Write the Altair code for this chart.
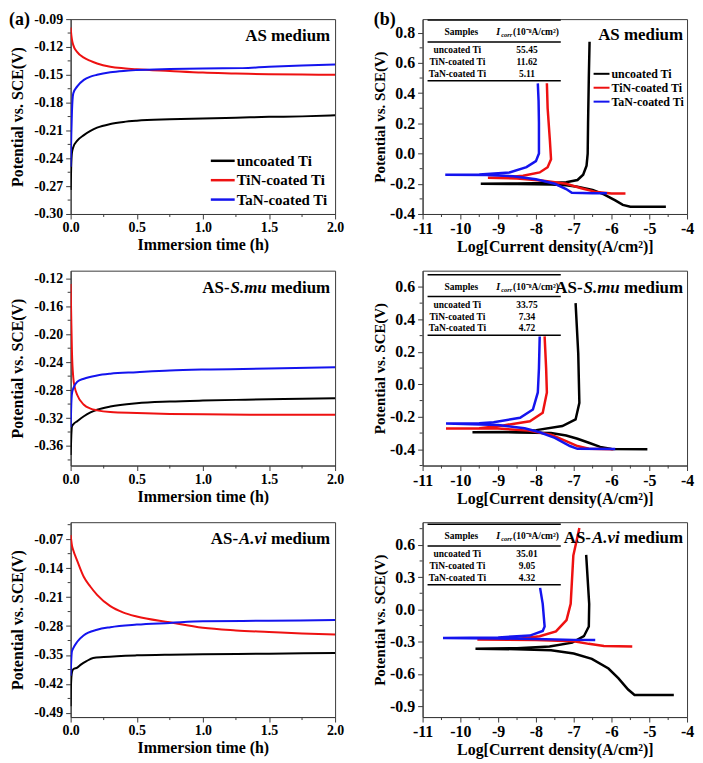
import altair as alt
import pandas as pd

FONT = "Liberation Serif"
SERIES = ["uncoated Ti", "TiN-coated Ti", "TaN-coated Ti"]
COLORS = ["#000000", "#ee1111", "#1414ee"]

ICORR_AS = ["55.45", "11.62", "5.11"]
ICORR_SMU = ["33.75", "7.34", "4.72"]
ICORR_AVI = ["35.01", "9.05", "4.32"]

# ---------- (a) open-circuit potential vs immersion time ----------
A1_UN_T = [0, 0.004, 0.01, 0.02, 0.05, 0.1, 0.15, 0.2, 0.3, 0.4, 0.5, 0.75, 1.0, 1.25, 1.5, 1.75, 2.0]
A1_UN_E = [-0.274, -0.25, -0.234, -0.228, -0.221, -0.215, -0.2105, -0.207, -0.203, -0.2008, -0.1995, -0.198, -0.197, -0.1962, -0.1953, -0.1948, -0.1937]
A1_TIN_T = [0, 0.005, 0.01, 0.02, 0.05, 0.1, 0.15, 0.2, 0.3, 0.4, 0.5, 0.75, 1.0, 1.25, 1.5, 1.75, 2.0]
A1_TIN_E = [-0.099, -0.107, -0.112, -0.118, -0.1255, -0.1315, -0.135, -0.1378, -0.1413, -0.143, -0.1441, -0.1459, -0.1476, -0.1485, -0.1494, -0.1497, -0.150]
A1_TAN_T = [0, 0.005, 0.01, 0.02, 0.05, 0.1, 0.15, 0.2, 0.3, 0.4, 0.5, 0.75, 1.0, 1.3, 1.5, 1.75, 2.0]
A1_TAN_E = [-0.249, -0.215, -0.19, -0.17, -0.1625, -0.1555, -0.152, -0.150, -0.1473, -0.1458, -0.1449, -0.1438, -0.1431, -0.1428, -0.1413, -0.140, -0.139]

A2_UN_T = [0, 0.005, 0.01, 0.02, 0.05, 0.1, 0.15, 0.2, 0.3, 0.5, 0.75, 1.0, 1.25, 1.5, 1.75, 2.0]
A2_UN_E = [-0.373, -0.345, -0.332, -0.329, -0.3245, -0.3175, -0.312, -0.3081, -0.3035, -0.2988, -0.2964, -0.295, -0.294, -0.2932, -0.2925, -0.2918]
A2_TIN_T = [0, 0.005, 0.01, 0.02, 0.03, 0.05, 0.1, 0.15, 0.2, 0.3, 0.5, 0.75, 1.0, 1.5, 2.0]
A2_TIN_E = [-0.128, -0.18, -0.225, -0.262, -0.275, -0.287, -0.301, -0.3065, -0.309, -0.3115, -0.3128, -0.3142, -0.3147, -0.3152, -0.3152]
A2_TAN_T = [0, 0.005, 0.01, 0.02, 0.05, 0.1, 0.2, 0.3, 0.5, 0.75, 1.0, 1.5, 2.0]
A2_TAN_E = [-0.333, -0.30, -0.285, -0.2775, -0.268, -0.2637, -0.259, -0.2565, -0.2544, -0.252, -0.2506, -0.2492, -0.2474]

A3_UN_T = [0, 0.003, 0.01, 0.02, 0.05, 0.08, 0.12, 0.17, 0.25, 0.5, 0.75, 1.0, 1.5, 2.0]
A3_UN_E = [-0.474, -0.42, -0.392, -0.3844, -0.3805, -0.3727, -0.3648, -0.357, -0.3547, -0.3508, -0.3492, -0.3484, -0.3468, -0.3453]
A3_TIN_T = [0, 0.01, 0.02, 0.05, 0.1, 0.15, 0.2, 0.3, 0.4, 0.5, 0.75, 1.0, 1.25, 1.5, 1.75, 2.0]
A3_TIN_E = [-0.06, -0.085, -0.097, -0.1224, -0.1615, -0.185, -0.2045, -0.2319, -0.2475, -0.2569, -0.271, -0.2843, -0.2905, -0.2944, -0.2983, -0.3007]
A3_TAN_T = [0, 0.005, 0.01, 0.02, 0.05, 0.1, 0.2, 0.3, 0.5, 0.75, 1.0, 1.5, 2.0]
A3_TAN_E = [-0.40, -0.36, -0.3413, -0.3335, -0.3179, -0.3023, -0.289, -0.2827, -0.2765, -0.2725, -0.2686, -0.2671, -0.2655]

# ---------- (b) polarization curves (path: cathodic -> Ecorr -> anodic) ----------
B1_UN_X = [-4.56, -5.5, -5.7, -5.9, -6.2, -6.5, -6.9, -7.2, -7.6, -8.5, -9.46, -8.5, -7.6, -7.2, -6.9, -6.75, -6.66, -6.63, -6.62, -6.60, -6.58]
B1_UN_E = [-0.352, -0.352, -0.34, -0.31, -0.27, -0.24, -0.22, -0.21, -0.205, -0.202, -0.2, -0.198, -0.195, -0.19, -0.175, -0.14, -0.08, 0.0, 0.2, 0.5, 0.74]
B1_TIN_X = [-5.63, -6.0, -6.4, -6.8, -7.2, -7.8, -8.5, -9.27, -8.94, -8.34, -7.9, -7.69, -7.6, -7.63, -7.69, -7.71]
B1_TIN_E = [-0.265, -0.265, -0.255, -0.23, -0.2, -0.18, -0.165, -0.16, -0.158, -0.147, -0.125, -0.09, -0.037, 0.085, 0.30, 0.465]
B1_TAN_X = [-6.12, -6.5, -7.05, -7.2, -7.5, -8.0, -8.6, -9.3, -10.4, -9.5, -8.7, -8.25, -8.0, -7.92, -7.92, -7.93, -7.95]
B1_TAN_E = [-0.262, -0.262, -0.26, -0.235, -0.2, -0.17, -0.15, -0.142, -0.14, -0.138, -0.125, -0.09, -0.05, 0.0, 0.2, 0.35, 0.465]

B2_UN_X = [-5.05, -6.0, -6.3, -6.6, -6.9, -7.2, -7.6, -8.5, -9.68, -8.5, -7.99, -7.3, -6.95, -6.85, -6.88, -6.95]
B2_UN_E = [-0.4, -0.398, -0.385, -0.36, -0.335, -0.315, -0.3, -0.296, -0.295, -0.293, -0.282, -0.257, -0.216, -0.114, 0.19, 0.5]
B2_TIN_X = [-5.95, -6.6, -6.9, -7.2, -7.6, -8.2, -9.0, -10.38, -9.5, -8.86, -8.16, -7.82, -7.71, -7.73, -7.77]
B2_TIN_E = [-0.4, -0.397, -0.38, -0.35, -0.31, -0.285, -0.272, -0.272, -0.27, -0.253, -0.227, -0.175, -0.05, 0.1, 0.295]
B2_TAN_X = [-5.9, -6.9, -7.1, -7.5, -7.9, -8.3, -9.0, -10.38, -9.5, -9.12, -8.42, -8.08, -7.95, -7.92, -7.9]
B2_TAN_E = [-0.398, -0.397, -0.38, -0.33, -0.295, -0.27, -0.25, -0.241, -0.24, -0.233, -0.206, -0.155, -0.05, 0.1, 0.295]

B3_UN_X = [-4.35, -5.39, -5.56, -5.82, -6.08, -6.52, -7.0, -7.6, -8.5, -9.6, -8.5, -7.64, -7.04, -6.73, -6.6, -6.59, -6.67]
B3_UN_E = [-0.795, -0.795, -0.744, -0.639, -0.549, -0.459, -0.41, -0.38, -0.37, -0.365, -0.36, -0.345, -0.309, -0.249, -0.159, 0.051, 0.507]
B3_TIN_X = [-5.45, -6.2, -6.6, -7.0, -8.0, -9.55, -8.5, -7.9, -7.47, -7.19, -7.08, -7.01, -6.85]
B3_TIN_E = [-0.345, -0.34, -0.32, -0.295, -0.285, -0.28, -0.275, -0.249, -0.204, -0.099, 0.051, 0.5, 0.756]
B3_TAN_X = [-6.43, -7.0, -8.0, -9.0, -10.46, -9.0, -8.16, -7.82, -7.77, -7.82, -7.89]
B3_TAN_E = [-0.285, -0.283, -0.275, -0.27, -0.265, -0.26, -0.243, -0.2, -0.159, 0.051, 0.2]

# ---------- tick values ----------
A_X_MAJ = [0, 0.5, 1.0, 1.5, 2.0]
A_X_MIN = [0.25, 0.75, 1.25, 1.75]
A1_Y_MAJ = [-0.30, -0.27, -0.24, -0.21, -0.18, -0.15, -0.12, -0.09]
A1_Y_MIN = [-0.285, -0.255, -0.225, -0.195, -0.165, -0.135, -0.105]
A2_Y_MAJ = [-0.36, -0.32, -0.28, -0.24, -0.20, -0.16, -0.12]
A2_Y_MIN = [-0.38, -0.34, -0.30, -0.26, -0.22, -0.18, -0.14]
A3_Y_MAJ = [-0.49, -0.42, -0.35, -0.28, -0.21, -0.14, -0.07]
A3_Y_MIN = [-0.455, -0.385, -0.315, -0.245, -0.175, -0.105, -0.035]
B_X_MAJ = [-11, -10, -9, -8, -7, -6, -5, -4]
B_X_MIN = [-10.5, -9.5, -8.5, -7.5, -6.5, -5.5, -4.5]
B1_Y_MAJ = [-0.4, -0.2, 0.0, 0.2, 0.4, 0.6, 0.8]
B1_Y_MIN = [-0.3, -0.1, 0.1, 0.3, 0.5, 0.7]
B2_Y_MAJ = [-0.4, -0.2, 0.0, 0.2, 0.4, 0.6]
B2_Y_MIN = [-0.5, -0.3, -0.1, 0.1, 0.3, 0.5]
B3_Y_MAJ = [-0.9, -0.6, -0.3, 0.0, 0.3, 0.6]
B3_Y_MIN = [-0.75, -0.45, -0.15, 0.15, 0.45, 0.75]

YTITLE = "Potential vs. SCE(V)"
XTITLE_A = "Immersion time (h)"
XTITLE_B = "Log[Current density(A/cm²)]"

WL, WR, H = 266, 266, 196
AXC = "#3a3a3a"
ONE = pd.DataFrame({"k": [0]})


def curves(named):
    rows = []
    for s, xs, ys in named:
        for i, (x, y) in enumerate(zip(xs, ys)):
            rows.append({"s": s, "x": x, "y": y, "i": i})
    return pd.DataFrame(rows)


def txt(t, x, y, size, align="left", italic=False, baseline="alphabetic"):
    return alt.Chart(ONE).mark_text(
        text=t, font=FONT, fontSize=size, fontWeight="bold",
        fontStyle="italic" if italic else "normal",
        align=align, baseline=baseline, color="black",
    ).encode(x=alt.value(x), y=alt.value(y))


def hline(x1, x2, y, color="black", w=1.5):
    return alt.Chart(ONE).mark_rule(color=color, strokeWidth=w).encode(
        x=alt.value(x1), x2=alt.value(x2), y=alt.value(y))


def lab_expr(fmt):
    return "replace(format(datum.value, '" + fmt + "'), '\u2212', '-')"


def panel(df, xdom, ydom, xmaj, xmin, ymaj, ymin, xfmt, yfmt, xtitle, W, kind, extras):
    if kind == "a":
        lab, xts, yts, ytp, sw, interp = 14, 16, 16, 8, 2, "monotone"
    else:
        lab, xts, yts, ytp, sw, interp = 16, 16, 15, 2, 2.5, "linear"
    xs = alt.Scale(domain=xdom, nice=False, zero=False)
    ys = alt.Scale(domain=ydom, nice=False, zero=False)
    xaxis = alt.Axis(values=xmaj, title=xtitle, labelExpr=lab_expr(xfmt), tickSize=5,
                     labelPadding=2, labelFontSize=lab, titleFontSize=xts, titlePadding=2,
                     grid=False, labelFlush=False, labelOverlap=False)
    yaxis = alt.Axis(values=ymaj, title=YTITLE, labelExpr=lab_expr(yfmt), tickSize=5,
                     labelPadding=3, labelFontSize=lab, titleFontSize=yts, titlePadding=ytp,
                     grid=False, labelFlush=False, labelOverlap=False)
    lines = alt.Chart(df).mark_line(strokeWidth=sw, clip=True, interpolate=interp).encode(
        x=alt.X("x:Q", scale=xs, axis=xaxis),
        y=alt.Y("y:Q", scale=ys, axis=yaxis),
        color=alt.Color("s:N", scale=alt.Scale(domain=SERIES, range=COLORS), legend=None),
        order="i:Q",
    )
    xminor = alt.Chart(pd.DataFrame({"x": xmin})).mark_rule(color=AXC, strokeWidth=1).encode(
        x=alt.X("x:Q", scale=xs, axis=xaxis), y=alt.value(H), y2=alt.value(H + 3))
    yminor = alt.Chart(pd.DataFrame({"y": ymin})).mark_rule(color=AXC, strokeWidth=1).encode(
        y=alt.Y("y:Q", scale=ys, axis=yaxis), x=alt.value(0), x2=alt.value(-3))
    return alt.layer(lines, *extras, xminor, yminor).properties(width=W, height=H)


def medium_title(italic_part, W, y, size=17, rpad=5):
    if italic_part is None:
        return [txt("AS medium", W - rpad, y, size, align="right")]
    med_w = 3.5 * size
    sp = 0.25 * size
    it_w = {"S.mu": 2.14, "A.vi": 1.639}[italic_part] * size
    return [
        txt("medium", W - rpad, y, size, align="right"),
        txt(italic_part, W - rpad - med_w - sp, y, size, align="right", italic=True),
        txt("AS-", W - rpad - med_w - sp - it_w - 1, y, size, align="right"),
    ]


def table(values, t0):
    out = [hline(5, 139, t0), hline(5, 139, t0 + 22), hline(5, 139, t0 + 61),
           txt("Samples", 39, t0 + 15, 9.5, align="center"),
           txt("I", 74, t0 + 15, 10, italic=True),
           txt("corr", 79, t0 + 17, 6.5, italic=True),
           txt("(10\u207b\u2078A/cm\u00b2)", 91, t0 + 15, 9.5)]
    for i, s in enumerate(SERIES):
        yy = t0 + 33.5 + 11.7 * i
        out.append(txt(s, 35, yy, 9.5, align="center"))
        out.append(txt(values[i], 105, yy, 9.5, align="center"))
    return out


def legend_a(W):
    out = []
    for i, s in enumerate(SERIES):
        yy = H - 53.5 + 19.5 * i
        out.append(hline(W - 125, W - 101, yy, COLORS[i], 2.5))
        out.append(txt(s, W - 99, yy, 15, baseline="middle"))
    return out


def legend_b(W):
    out = []
    for i, s in enumerate(SERIES):
        yy = 55 + 14 * i
        out.append(hline(W - 94, W - 78, yy, COLORS[i], 2))
        out.append(txt(s, W - 76, yy, 12, baseline="middle"))
    return out


a1 = panel(curves([(SERIES[0], A1_UN_T, A1_UN_E), (SERIES[1], A1_TIN_T, A1_TIN_E), (SERIES[2], A1_TAN_T, A1_TAN_E)]),
           [0, 2], [-0.30, -0.09], A_X_MAJ, A_X_MIN, A1_Y_MAJ, A1_Y_MIN, ".1f", ".2f", XTITLE_A, WL, "a",
           [txt("(a)", -62, -8, 18, baseline="top")] + medium_title(None, WL, 22) + legend_a(WL))
b1 = panel(curves([(SERIES[0], B1_UN_X, B1_UN_E), (SERIES[1], B1_TIN_X, B1_TIN_E), (SERIES[2], B1_TAN_X, B1_TAN_E)]),
           [-11, -4], [-0.4, 0.89], B_X_MAJ, B_X_MIN, B1_Y_MAJ, B1_Y_MIN, "d", ".1f", XTITLE_B, WR, "b",
           [txt("(b)", -49, -8, 18, baseline="top")] + medium_title(None, WR, 21, rpad=4) + table(ICORR_AS, 1) + legend_b(WR))
a2 = panel(curves([(SERIES[0], A2_UN_T, A2_UN_E), (SERIES[1], A2_TIN_T, A2_TIN_E), (SERIES[2], A2_TAN_T, A2_TAN_E)]),
           [0, 2], [-0.388, -0.109], A_X_MAJ, A_X_MIN, A2_Y_MAJ, A2_Y_MIN, ".1f", ".2f", XTITLE_A, WL, "a",
           medium_title("S.mu", WL, 22))
b2 = panel(curves([(SERIES[0], B2_UN_X, B2_UN_E), (SERIES[1], B2_TIN_X, B2_TIN_E), (SERIES[2], B2_TAN_X, B2_TAN_E)]),
           [-11, -4], [-0.5, 0.7], B_X_MAJ, B_X_MIN, B2_Y_MAJ, B2_Y_MIN, "d", ".1f", XTITLE_B, WR, "b",
           medium_title("S.mu", WR, 22, rpad=4) + table(ICORR_SMU, 4))
a3 = panel(curves([(SERIES[0], A3_UN_T, A3_UN_E), (SERIES[1], A3_TIN_T, A3_TIN_E), (SERIES[2], A3_TAN_T, A3_TAN_E)]),
           [0, 2], [-0.50, -0.029], A_X_MAJ, A_X_MIN, A3_Y_MAJ, A3_Y_MIN, ".1f", ".2f", XTITLE_A, WL, "a",
           medium_title("A.vi", WL, 22))
b3 = panel(curves([(SERIES[0], B3_UN_X, B3_UN_E), (SERIES[1], B3_TIN_X, B3_TIN_E), (SERIES[2], B3_TAN_X, B3_TAN_E)]),
           [-11, -4], [-1.0, 0.81], B_X_MAJ, B_X_MIN, B3_Y_MAJ, B3_Y_MIN, "d", ".1f", XTITLE_B, WR, "b",
           medium_title("A.vi", WR, 21, rpad=4) + table(ICORR_AVI, 2))

chart = alt.concat(
    a1, b1, a2, b2, a3, b3, columns=2, bounds="flush",
    spacing={"row": 57, "column": 88},
).resolve_scale(x="independent", y="independent").configure_view(
    stroke=AXC, strokeWidth=1
).configure_axis(
    domainColor=AXC, tickColor=AXC, labelColor="black", titleColor="black",
    labelFont=FONT, titleFont=FONT, labelFontWeight="bold", titleFontWeight="bold",
    domainWidth=1, tickWidth=1,
).properties(padding=0, background="white")

chart.save("out.html", embed_options={"renderer": "svg", "actions": False})
